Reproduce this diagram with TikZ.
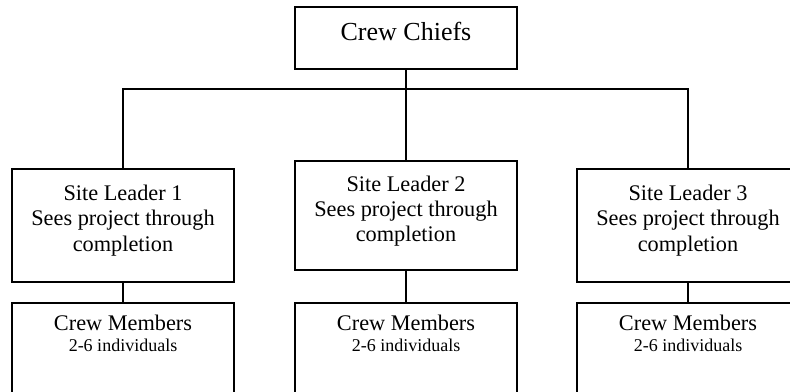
\documentclass[tikz,border=0pt]{standalone}
\usepackage{fontspec}
\setmainfont{Liberation Serif}
\begin{document}
\begin{tikzpicture}[x=1pt,y=-1pt,
  box/.style={draw, line width=2pt, inner sep=0pt, outer sep=0pt},
  wire/.style={line width=2pt},
  big/.style={anchor=base, inner sep=0pt, font=\fontsize{26}{30}\selectfont},
  mid/.style={anchor=base, inner sep=0pt, font=\fontsize{22.3}{26}\selectfont},
  small/.style={anchor=base, inner sep=0pt, font=\fontsize{18}{21}\selectfont}]
\useasboundingbox (0,0) rectangle (790,391);
\clip (0,0) rectangle (790,391);
% boxes
\node[box, minimum width=222pt, minimum height=62pt] (chief) at (406,38) {};
\node[box, minimum width=222pt, minimum height=113pt] (sl1) at (123,225.5) {};
\node[box, minimum width=222pt, minimum height=109pt] (sl2) at (406,215.5) {};
\node[box, minimum width=222pt, minimum height=113pt] (sl3) at (688,225.5) {};
\node[box, minimum width=222pt, minimum height=140pt] (cm1) at (123,373) {};
\node[box, minimum width=222pt, minimum height=140pt] (cm2) at (406,373) {};
\node[box, minimum width=222pt, minimum height=140pt] (cm3) at (688,373) {};
% connectors
\coordinate (hbar) at (406,89);
\draw[wire] (chief.south) -- (sl2.north);
\draw[wire] (sl1.north) |- (hbar) -| (sl3.north);
\draw[wire] (sl1.south) -- (cm1.north);
\draw[wire] (sl2.south) -- (cm2.north);
\draw[wire] (sl3.south) -- (cm3.north);
% texts
\node[big] (tchief) at (406,40) {Crew Chiefs};
\node[mid] (t1a) at (123,200) {Site Leader 1};
\node[mid] (t1b) at (123,225) {Sees project through};
\node[mid] (t1c) at (123,251) {completion};
\node[mid] (t2a) at (406,191) {Site Leader 2};
\node[mid] (t2b) at (406,216) {Sees project through};
\node[mid] (t2c) at (406,241) {completion};
\node[mid] (t3a) at (688,200) {Site Leader 3};
\node[mid] (t3b) at (688,225) {Sees project through};
\node[mid] (t3c) at (688,251) {completion};
\node[mid] (c1a) at (123,330) {Crew Members};
\node[small] (c1b) at (123,351) {2-6 individuals};
\node[mid] (c2a) at (406,330) {Crew Members};
\node[small] (c2b) at (406,351) {2-6 individuals};
\node[mid] (c3a) at (688,330) {Crew Members};
\node[small] (c3b) at (688,351) {2-6 individuals};
\end{tikzpicture}
\end{document}
